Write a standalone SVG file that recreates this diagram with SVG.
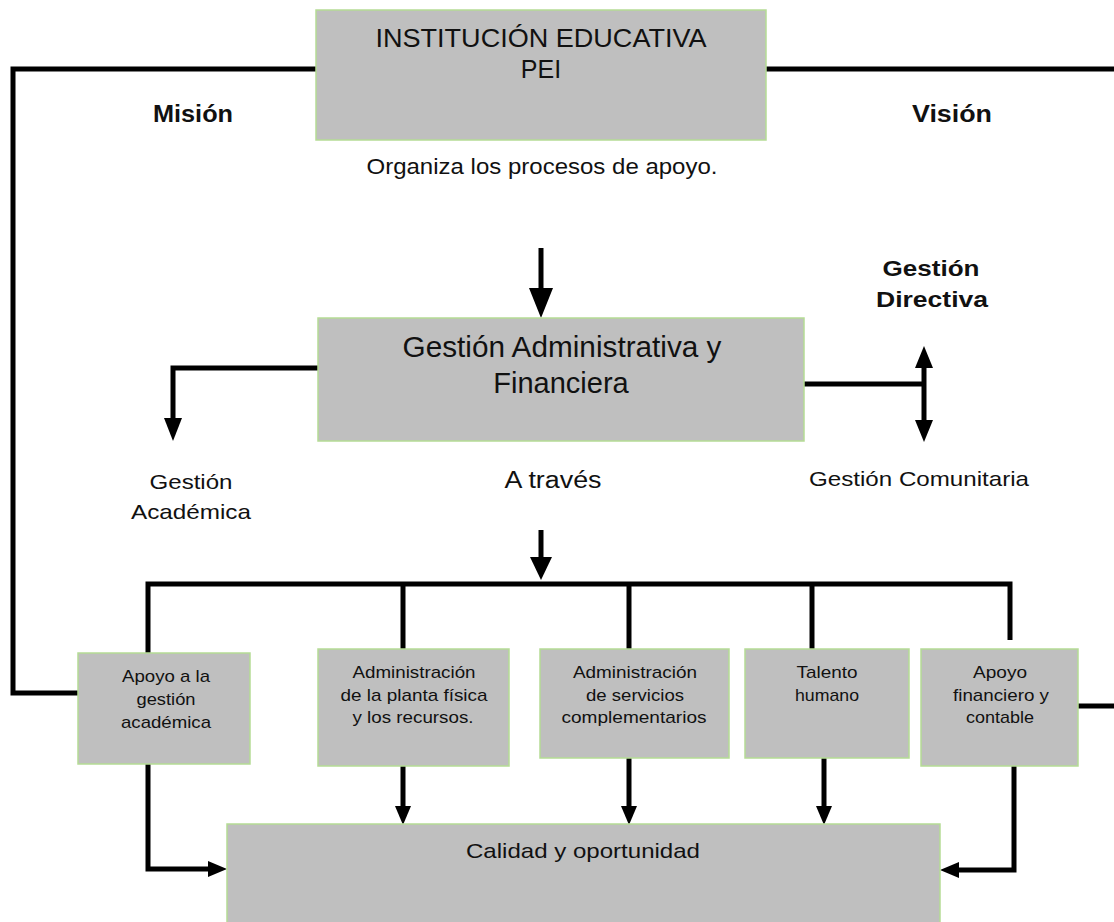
<svg xmlns="http://www.w3.org/2000/svg" width="1114" height="922" viewBox="0 0 1114 922">
<defs>
<style>
.box{fill:#bfbfbf;stroke:#b5dc95;stroke-width:1.5}
.ln{fill:none;stroke:#000;stroke-width:5}
.t{font-family:"Liberation Sans",Arial,sans-serif;fill:#111;text-anchor:middle}
.b{font-weight:bold}
.s{font-size:17px}
</style>
</defs>
<rect width="1114" height="922" fill="#fff"/>

<g id="connectors">
<path class="ln" d="M316,69 H13 V693 H78"/>
<path class="ln" d="M766,69 H1114"/>
<path class="ln" d="M1078,706 H1114"/>
<line class="ln" x1="541" y1="248" x2="541" y2="290"/>
<path d="M529,288 L553,288 L541,318 Z" fill="#000"/>
<path class="ln" d="M318,368 H173 V420"/>
<path d="M164,418 L182,418 L173,441 Z" fill="#000"/>
<path class="ln" d="M804,384 H924"/>
<line class="ln" x1="924" y1="366" x2="924" y2="422"/>
<path d="M915,368 L933,368 L924,346 Z" fill="#000"/>
<path d="M915,420 L933,420 L924,442 Z" fill="#000"/>
<line class="ln" x1="541" y1="530" x2="541" y2="560"/>
<path d="M530,557 L552,557 L541,580 Z" fill="#000"/>
<path class="ln" d="M148,654 V584 H1010 V640"/>
<line class="ln" x1="403" y1="584" x2="403" y2="649"/>
<line class="ln" x1="629" y1="584" x2="629" y2="649"/>
<line class="ln" x1="812" y1="584" x2="812" y2="649"/>
<path class="ln" d="M148,764 V869 H210"/>
<path d="M208,861 L208,877 L227,869 Z" fill="#000"/>
<path class="ln" d="M1014,766 V870 H958"/>
<path d="M959,862 L959,878 L940,870 Z" fill="#000"/>
<line class="ln" x1="403" y1="766" x2="403" y2="808"/>
<path d="M395,806 L411,806 L403,825 Z" fill="#000"/>
<line class="ln" x1="629" y1="758" x2="629" y2="808"/>
<path d="M621,806 L637,806 L629,825 Z" fill="#000"/>
<line class="ln" x1="824" y1="758" x2="824" y2="808"/>
<path d="M816,806 L832,806 L824,825 Z" fill="#000"/>
</g>

<g id="labels">
<text class="t b" x="193" y="122" font-size="23" textLength="80" lengthAdjust="spacingAndGlyphs">Misión</text>
<text class="t b" x="952" y="122" font-size="23" textLength="80" lengthAdjust="spacingAndGlyphs">Visión</text>
<text class="t" x="542" y="174" font-size="22" textLength="351" lengthAdjust="spacingAndGlyphs">Organiza los procesos de apoyo.</text>
<text class="t b" x="931" y="276" font-size="22" textLength="97" lengthAdjust="spacingAndGlyphs">Gestión</text>
<text class="t b" x="932" y="307" font-size="22" textLength="112" lengthAdjust="spacingAndGlyphs">Directiva</text>
<text class="t" x="191" y="489" font-size="21" textLength="83" lengthAdjust="spacingAndGlyphs">Gestión</text>
<text class="t" x="191" y="519" font-size="21" textLength="120" lengthAdjust="spacingAndGlyphs">Académica</text>
<text class="t" x="553" y="488" font-size="23" textLength="97" lengthAdjust="spacingAndGlyphs">A través</text>
<text class="t" x="919" y="486" font-size="21" textLength="220" lengthAdjust="spacingAndGlyphs">Gestión Comunitaria</text>
</g>

<g id="n-institucion">
<rect class="box" x="316" y="10" width="450" height="130"/>
<text class="t" x="541" y="47" font-size="25" textLength="331" lengthAdjust="spacingAndGlyphs">INSTITUCIÓN EDUCATIVA</text>
<text class="t" x="541" y="78" font-size="25">PEI</text>
</g>

<g id="n-gestion-admin">
<rect class="box" x="318" y="318" width="486" height="123"/>
<text class="t" x="562" y="357" font-size="29" textLength="319" lengthAdjust="spacingAndGlyphs">Gestión Administrativa y</text>
<text class="t" x="561" y="393" font-size="29">Financiera</text>
</g>

<g id="n-apoyo-academica">
<rect class="box" x="78" y="653" width="172" height="111"/>
<text class="t s" x="166" y="682" textLength="88" lengthAdjust="spacingAndGlyphs">Apoyo a la</text>
<text class="t s" x="166" y="705" textLength="59" lengthAdjust="spacingAndGlyphs">gestión</text>
<text class="t s" x="166" y="728" textLength="90" lengthAdjust="spacingAndGlyphs">académica</text>
</g>

<g id="n-planta">
<rect class="box" x="318" y="649" width="191" height="117"/>
<text class="t s" x="414" y="678" textLength="123" lengthAdjust="spacingAndGlyphs">Administración</text>
<text class="t s" x="414" y="701" textLength="147" lengthAdjust="spacingAndGlyphs">de la planta física</text>
<text class="t s" x="413" y="723" textLength="121" lengthAdjust="spacingAndGlyphs">y los recursos.</text>
</g>

<g id="n-servicios">
<rect class="box" x="540" y="649" width="189" height="109"/>
<text class="t s" x="635" y="678" textLength="124" lengthAdjust="spacingAndGlyphs">Administración</text>
<text class="t s" x="635" y="701" textLength="98" lengthAdjust="spacingAndGlyphs">de servicios</text>
<text class="t s" x="634" y="723" textLength="145" lengthAdjust="spacingAndGlyphs">complementarios</text>
</g>

<g id="n-talento">
<rect class="box" x="745" y="649" width="164" height="109"/>
<text class="t s" x="827" y="678" textLength="61" lengthAdjust="spacingAndGlyphs">Talento</text>
<text class="t s" x="827" y="701" textLength="64" lengthAdjust="spacingAndGlyphs">humano</text>
</g>

<g id="n-financiero">
<rect class="box" x="921" y="649" width="157" height="117"/>
<text class="t s" x="1000" y="678" textLength="54" lengthAdjust="spacingAndGlyphs">Apoyo</text>
<text class="t s" x="1001" y="701" textLength="96" lengthAdjust="spacingAndGlyphs">financiero y</text>
<text class="t s" x="1000" y="723" textLength="68" lengthAdjust="spacingAndGlyphs">contable</text>
</g>

<g id="n-calidad">
<rect class="box" x="227" y="824" width="713" height="110"/>
<text class="t" x="583" y="858" font-size="21" textLength="234" lengthAdjust="spacingAndGlyphs">Calidad y oportunidad</text>
</g>
</svg>
